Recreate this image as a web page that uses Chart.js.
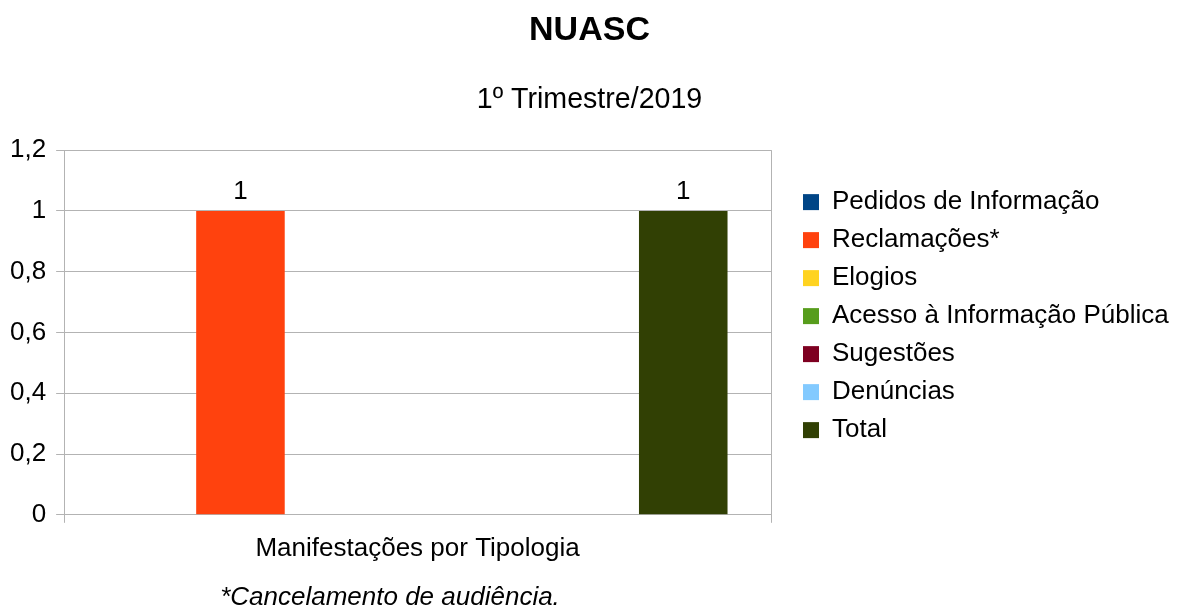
<!DOCTYPE html>
<html>
<head>
<meta charset="utf-8">
<script src="https://cdn.jsdelivr.net/npm/chart.js@4"></script>
<style>
  body { margin: 0; background: #fff; }
</style>
</head>
<body>
<canvas id="chart" width="1179" height="609"></canvas>
<script>
const categories = ["Manifestações por Tipologia"];
const seriesNames = ["Pedidos de Informação", "Reclamações*", "Elogios", "Acesso à Informação Pública", "Sugestões", "Denúncias", "Total"];
const seriesValues = [[0], [1], [0], [0], [0], [0], [1]];
const seriesColors = ["#004586", "#ff420e", "#ffd320", "#579d1c", "#7e0021", "#83caff", "#314004"];
const yTickValues = [0, 0.2, 0.4, 0.6, 0.8, 1, 1.2];
const footnote = "*Cancelamento de audiência.";

const fmt = v => Number.isInteger(v) ? String(v) : v.toFixed(1).replace(".", ",");

Chart.defaults.font.family = '"Liberation Sans", Arial, sans-serif';
Chart.defaults.font.size = 26;
Chart.defaults.color = "#000";

// value labels above non-zero bars
const barLabels = {
  id: "barLabels",
  afterDatasetsDraw(chart) {
    const ctx = chart.ctx;
    ctx.save();
    ctx.font = '26px "Liberation Sans", Arial, sans-serif';
    ctx.fillStyle = "#000";
    ctx.textAlign = "center";
    ctx.textBaseline = "middle";
    chart.data.datasets.forEach((ds, i) => {
      chart.getDatasetMeta(i).data.forEach((bar, j) => {
        if (ds.data[j]) ctx.fillText(fmt(ds.data[j]), bar.x, bar.y - 19);
      });
    });
    ctx.restore();
  }
};

// legend placement, full-width titles, footnote
const extras = {
  id: "extras",
  afterLayout(chart) {
    chart.boxes.forEach(b => {
      if (b.position === "top") { b.left = 0; b.right = chart.width; }
    });
    const l = chart.legend;
    const dy = chart.chartArea.top + 27 - l.top;
    l.left = chart.chartArea.right + 20;
    l.right = chart.width;
    l.top += dy; l.bottom += dy;
  },
  afterDraw(chart) {
    const ctx = chart.ctx;
    ctx.save();
    ctx.font = 'italic 26px "Liberation Sans", Arial, sans-serif';
    ctx.fillStyle = "#000";
    ctx.textAlign = "center";
    ctx.textBaseline = "middle";
    ctx.fillText(footnote, 390, 598);
    ctx.restore();
  }
};

new Chart(document.getElementById("chart"), {
  type: "bar",
  data: {
    labels: categories,
    datasets: seriesNames.map((name, i) => ({
      label: name,
      data: seriesValues[i],
      backgroundColor: seriesColors[i],
      borderWidth: 0,
      barPercentage: 1,
      categoryPercentage: 0.877
    }))
  },
  options: {
    responsive: false,
    animation: false,
    layout: { padding: { left: 0, right: 151, bottom: 35 } },
    scales: {
      x: {
        grid: { color: "#b3b3b3", tickLength: 8 },
        border: { color: "#b3b3b3" },
        ticks: { padding: 10 }
      },
      y: {
        min: 0,
        max: 1.2,
        afterBuildTicks: axis => { axis.ticks = yTickValues.map(v => ({ value: v })); },
        grid: { color: "#b3b3b3", tickLength: 8 },
        border: { color: "#b3b3b3" },
        ticks: { padding: 10, callback: v => fmt(v) }
      }
    },
    plugins: {
      title: {
        display: true,
        text: "NUASC",
        font: { size: 34, weight: "bold" },
        padding: { top: 10, bottom: 0 }
      },
      subtitle: {
        display: true,
        text: "1º Trimestre/2019",
        font: { size: 28.6 },
        color: "#000",
        padding: { top: 32, bottom: 33 }
      },
      legend: {
        position: "right",
        align: "start",
        labels: { boxWidth: 16, boxHeight: 16, padding: 12 }
      },
      tooltip: { enabled: false }
    }
  },
  plugins: [barLabels, extras]
});
</script>
</body>
</html>
